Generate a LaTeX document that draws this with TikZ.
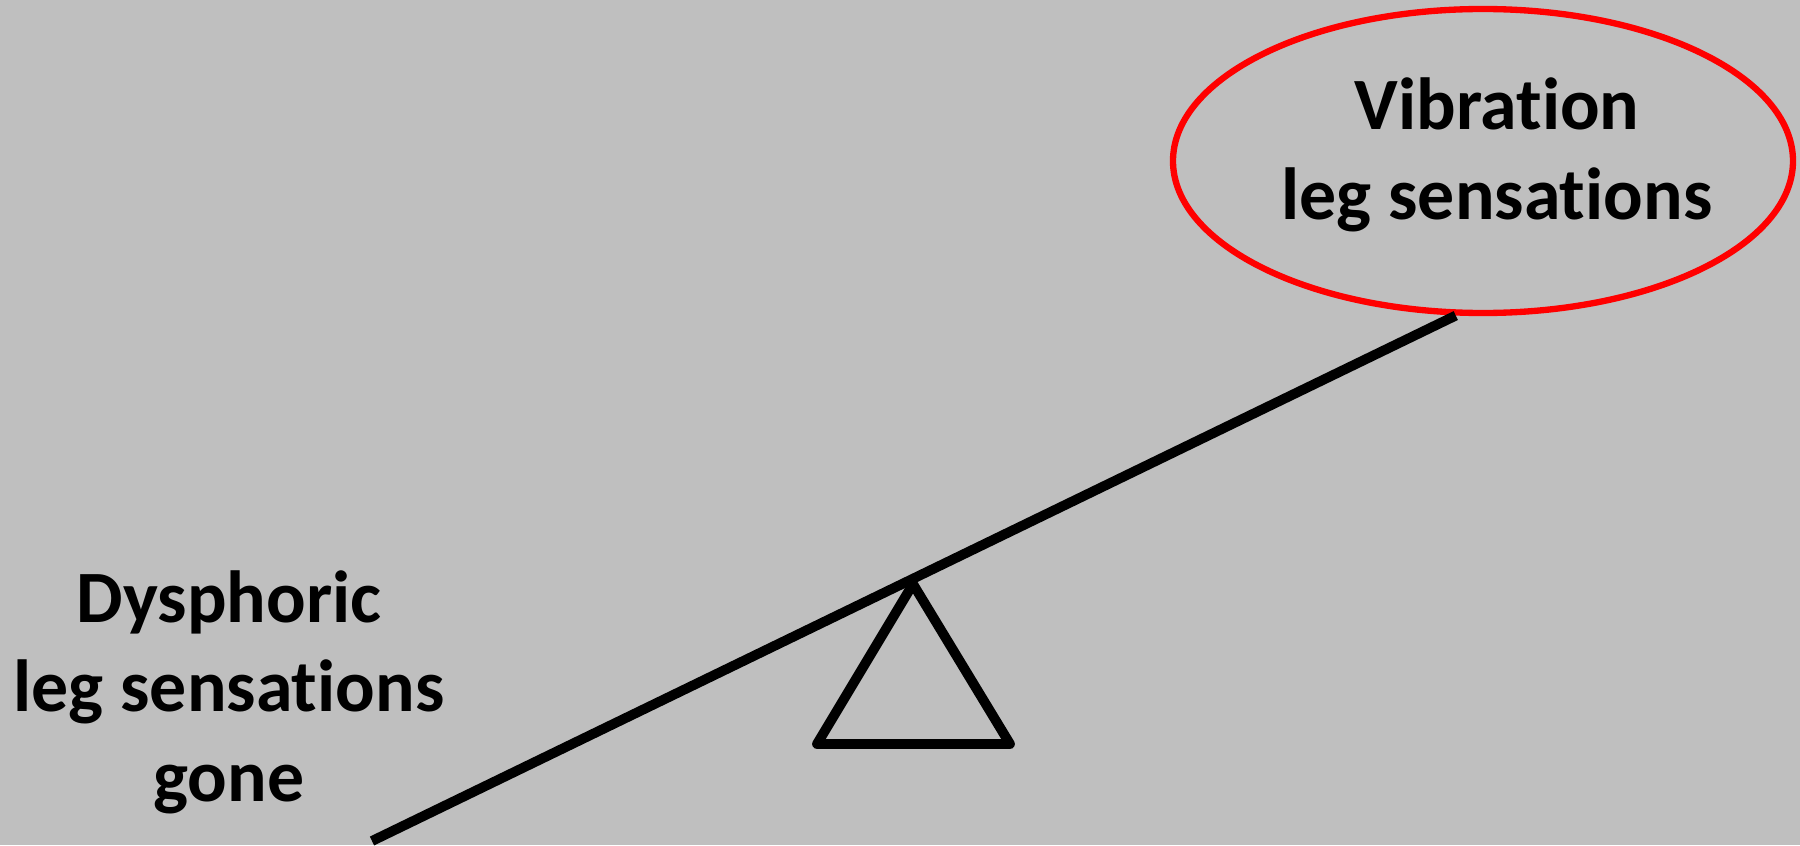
\documentclass[tikz,border=0pt]{standalone}
\usepackage{fontspec}
\setmainfont{Carlito}[Ligatures=CommonOff]
\usepackage{xcolor}
\usetikzlibrary{shapes.geometric}
\definecolor{slidegray}{RGB}{191,191,191}

\begin{document}
\begin{tikzpicture}[
    sidetext/.style={font=\fontsize{21}{25.5}\selectfont\bfseries, align=center, inner sep=0pt},
    focus/.style={draw=red, line width=1.8pt, ellipse, minimum width=6.2cm, minimum height=3.04cm},
    beam/.style={line width=2.8pt, black},
    fulcrum/.style={line width=2.8pt, line join=round, black}
]

%% Background
\fill[slidegray] (0,0) rectangle (18,8.45);
\useasboundingbox (0,0) rectangle (18,8.45);

%% Raised side
\node[focus] (vib) at (14.83,6.84) {};
\node[sidetext] (vibtext) at ([xshift=0.14cm, yshift=0.06cm]vib.center) {Vibration\\leg sensations};

%% Lowered side
\node[sidetext] (dys) at (2.29,1.53) {Dysphoric\\leg sensations\\gone};

%% Seesaw
\coordinate (low) at (3.72,0.04);
\coordinate (pivot) at (9.13,2.61);
\draw[beam] (low) -- (vib.-100);
\draw[fulcrum] (pivot) -- (8.17,1.01) -- (10.10,1.01) -- cycle;

\end{tikzpicture}
\end{document}
